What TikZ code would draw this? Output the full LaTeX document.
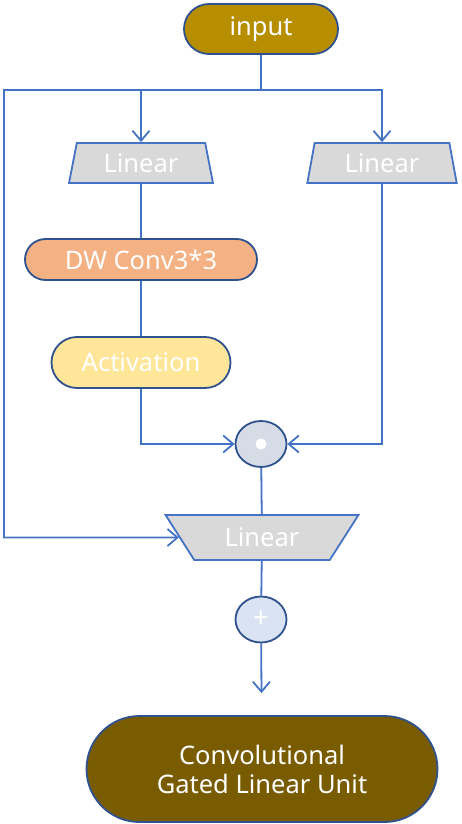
\documentclass[tikz,border=0pt]{standalone}
\usepackage{fontspec}
\setmainfont{Noto Sans}
\usetikzlibrary{shapes.geometric,arrows.meta}
\definecolor{lineblue}{HTML}{4472C4}
\definecolor{darkb}{HTML}{2F528F}
\definecolor{inputfill}{HTML}{B78E00}
\definecolor{outfill}{HTML}{7A5C00}
\definecolor{dwfill}{HTML}{F4B183}
\definecolor{actfill}{HTML}{FFE699}
\definecolor{linfill}{HTML}{D9D9D9}
\definecolor{mulfill}{HTML}{D6DCE5}
\definecolor{plusfill}{HTML}{DAE3F3}
\tikzset{
  conn/.style={draw=lineblue, line width=1.8pt},
  arr/.style={conn, -{Straight Barb[length=10pt,width=17pt,line width=1.8pt]}},
  txt/.style={text=white, font=\fontsize{25.5}{30}\selectfont},
  stadium/.style={draw=darkb, line width=1.8pt, txt, inner sep=0pt, align=center},
  linbox/.style={trapezium, trapezium stretches=true, draw=lineblue, line width=1.8pt, fill=linfill, txt, inner sep=0pt},
  opcircle/.style={ellipse, draw=darkb, line width=1.8pt, inner sep=0pt, minimum width=51pt, minimum height=46pt},
}
\begin{document}
\begin{tikzpicture}[x=1pt,y=-1pt]
\useasboundingbox (0,0) rectangle (461,824);
\node[stadium, fill=inputfill, minimum width=154pt, minimum height=50pt, rounded corners=25pt] (input) at (261,29) {input};
\node[linbox, minimum width=144pt, minimum height=40pt, trapezium left angle=76.6, trapezium right angle=76.6] (lin1) at (141,163) {Linear};
\node[linbox, minimum width=150pt, minimum height=40pt, trapezium left angle=78, trapezium right angle=78] (lin2) at (382,163) {Linear};
\node[stadium, fill=dwfill, minimum width=232pt, minimum height=41pt, rounded corners=20.5pt] (dw) at (141,259.5) {DW Conv3*3};
\node[stadium, fill=actfill, minimum width=179pt, minimum height=51pt, rounded corners=25.5pt] (act) at (141,362.5) {Activation};
\node[opcircle, fill=mulfill] (mul) at (261,444) {};
\fill[white] (mul.center) circle (5.5pt);
\node[linbox, minimum width=193pt, minimum height=45pt, trapezium left angle=50.2, trapezium right angle=50.2, shape border rotate=180] (lin3) at (262,537.5) {Linear};
\node[opcircle, fill=plusfill, text=white, font=\fontsize{28}{28}\selectfont] (plus) at (261,619.5) {+};
\node[stadium, fill=outfill, minimum width=351pt, minimum height=106pt, rounded corners=53pt] (out) at (262,769) {Convolutional\\[-1pt]Gated Linear Unit};
\coordinate (J) at (261,90);
\coordinate (L) at (4,537.5);
\draw[conn] (input) -- (J);
\draw[arr] (J) -| (lin1.north);
\draw[arr] (J) -| (lin2.north);
\draw[arr] (J) -| (L) -- (lin3);
\draw[conn] (lin1) -- (dw);
\draw[conn] (dw) -- (act);
\draw[arr] (act.south) |- (mul);
\draw[arr] (lin2.south) |- (mul);
\draw[conn] (mul) -- (lin3);
\draw[conn] (lin3) -- (plus);
\draw[arr, shorten >=22pt] (plus) -- (out);
\end{tikzpicture}
\end{document}
